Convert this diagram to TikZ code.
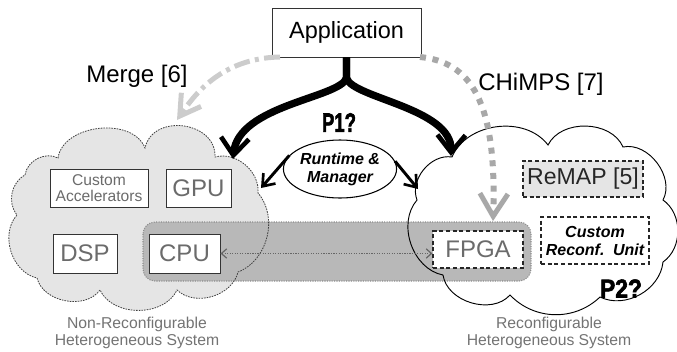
\documentclass[tikz,border=0pt]{standalone}
\usepackage{fontspec}
\setmainfont{Liberation Sans}
\newfontfamily\heavy{Liberation Sans}[BoldFeatures={FakeBold=2.5}]
\usepackage{graphicx}
\usetikzlibrary{arrows.meta,shapes.geometric}
\begin{document}
\def\leftcloud{(25,175) to[bend left=55] (58,158) to[bend left=75] (145,148) to[bend left=85,looseness=1.3] (215,157) to[bend left=55] (258,193) to[bend left=55] (238,272) to[bend left=60] (177,290) to[bend left=65] (100,290) to[bend left=65] (37,278) to[bend left=60] (17,215) to[bend left=50] (25,175) -- cycle}
\def\rightcloud{(417,200) to[bend left=60] (452,157) to[bend left=60] (548,145) to[bend left=65] (623,147) to[bend left=65] (663,200) to[bend left=55] (663,262) to[bend left=55] (600,297) to[bend left=45] (510,295) to[bend left=65] (443,275) to[bend left=60] (417,200) -- cycle}
\begin{tikzpicture}[x=0.75pt,y=-0.75pt,
  box/.style={draw=black!80,line width=0.7pt,fill=white,inner sep=0pt,text=black!58},
  dbox/.style={draw=black!85,line width=0.9pt,dash pattern=on 3pt off 2pt,inner sep=0pt},
  bigtext/.style={font=\fontsize{18pt}{21pt}\selectfont},
  smalltext/.style={font=\fontsize{11.7pt}{12pt}\selectfont,align=center},
  bi/.style={font=\fontsize{12pt}{13.5pt}\selectfont\bfseries\itshape,align=center},
  caption/.style={font=\fontsize{11.8pt}{12.75pt}\selectfont,text=black!55,align=center,inner sep=0pt},
  thickarrow/.style={line width=5.5pt,-{Straight Barb[length=13pt,width=21pt,line width=3.5pt]}},
  thinarrow/.style={line width=2.2pt,-{Straight Barb[length=8pt,width=12pt,line width=2pt]}},
]
\useasboundingbox (0,0) rectangle (677,351);
% clouds fill
\fill[black!10] \leftcloud;
\fill[white] \rightcloud;
% band
\draw[fill=black!28,draw=black!45,densely dotted,line width=0.8pt,rounded corners=9pt] (143,222) rectangle (531,281);
% cloud outlines
\draw[black!75,line width=0.6pt,dash pattern=on 1.2pt off 0.8pt] \leftcloud;
\draw[black,line width=0.7pt] \rightcloud;
% boxes
\node[box,text=black,minimum width=111.75pt,minimum height=36.75pt,font=\fontsize{17.6pt}{20pt}\selectfont] (app) at (346.5,32.5) {Application};
\node[box,smalltext,minimum width=73.5pt,minimum height=28.5pt] (acc) at (99,188) {Custom\\Accelerators};
\node[box,bigtext,minimum width=48.75pt,minimum height=28.5pt] (gpu) at (198.5,188) {GPU};
\node[box,bigtext,minimum width=48pt,minimum height=29.25pt] (dsp) at (85,253.5) {DSP};
\node[box,bigtext,minimum width=53.25pt,minimum height=29.25pt] (cpu) at (184.5,253.5) {CPU};
\node[dbox,fill=white,bigtext,text=black!58,minimum width=67.5pt,minimum height=27.75pt] (fpga) at (478,249.5) {FPGA};
\node[dbox,fill=black!10,text=black!85,font=\fontsize{17.3pt}{20pt}\selectfont,minimum width=90pt,minimum height=27pt] (remap) at (583,179) {ReMAP [5]};
\node[dbox,fill=white,bi,minimum width=81pt,minimum height=35.25pt] (cru) at (595,240.5) {Custom\\Reconf.\hspace{2pt} Unit};
\node[ellipse,draw=black,line width=0.8pt,fill=white,bi,inner sep=0pt,minimum width=75pt,minimum height=43.5pt] (ell) at (340,169) {Runtime \&\\Manager};
\node[inner sep=0pt] (p1) at (339,122.5) {\resizebox{25.5pt}{14pt}{\heavy\bfseries P1?}};
\node[inner sep=0pt] (p2) at (621,288.5) {\resizebox{31.5pt}{13.5pt}{\heavy\bfseries P2?}};
% labels
\node[bigtext,anchor=base,inner sep=0pt] (merge) at (137,82) {Merge [6]};
\node[bigtext,anchor=base,inner sep=0pt] (chimps) at (541,90) {CHiMPS [7]};
\node[caption] (lcap) at (137,333) {Non-Reconfigurable\\Heterogeneous System};
\node[caption] (rcap) at (549,333) {Reconfigurable\\Heterogeneous System};
% coordinates
\coordinate (lg) at (233,159);
\coordinate (rg) at (451,156);
\coordinate (lt) at (261,188);
\coordinate (rt) at (418,189);
\coordinate (fork) at (346.5,78);
\coordinate (mstart) at (280,57);
\coordinate (mtip) at (177,120);
\coordinate (cstart) at (420,57);
\coordinate (ctip) at (493,221);
% Merge arrow
\draw[black!20,line width=3.75pt,dash pattern=on 12pt off 4pt on 3pt off 4pt,-{Straight Barb[length=15pt,width=18pt,line width=3.75pt]}]
  (mstart) .. controls (220,58) and (193,97) .. (mtip);
% CHiMPS arrow
\draw[black!34,line width=4.5pt,dash pattern=on 4.5pt off 5pt,-{Straight Barb[length=17pt,width=21pt,line width=3.75pt]}]
  (cstart) .. controls (470,62) and (497,100) .. (ctip);
% thick arrows
\draw[thickarrow] (app.south) -- (fork) .. controls (340,98) and (238,105) .. (lg);
\draw[thickarrow] (app.south) -- (fork) .. controls (352,98) and (452,108) .. (rg);
% thin arrows
\draw[thinarrow] (ell.165) -- (lt);
\draw[thinarrow] (ell.8) -- (rt);
% CPU-FPGA
\draw[black!60,line width=0.9pt,densely dotted,{Straight Barb[length=4pt,width=7pt]}-{Straight Barb[length=4pt,width=7pt]}] (cpu.east) -- (fpga.west |- cpu.east);
\end{tikzpicture}
\end{document}
